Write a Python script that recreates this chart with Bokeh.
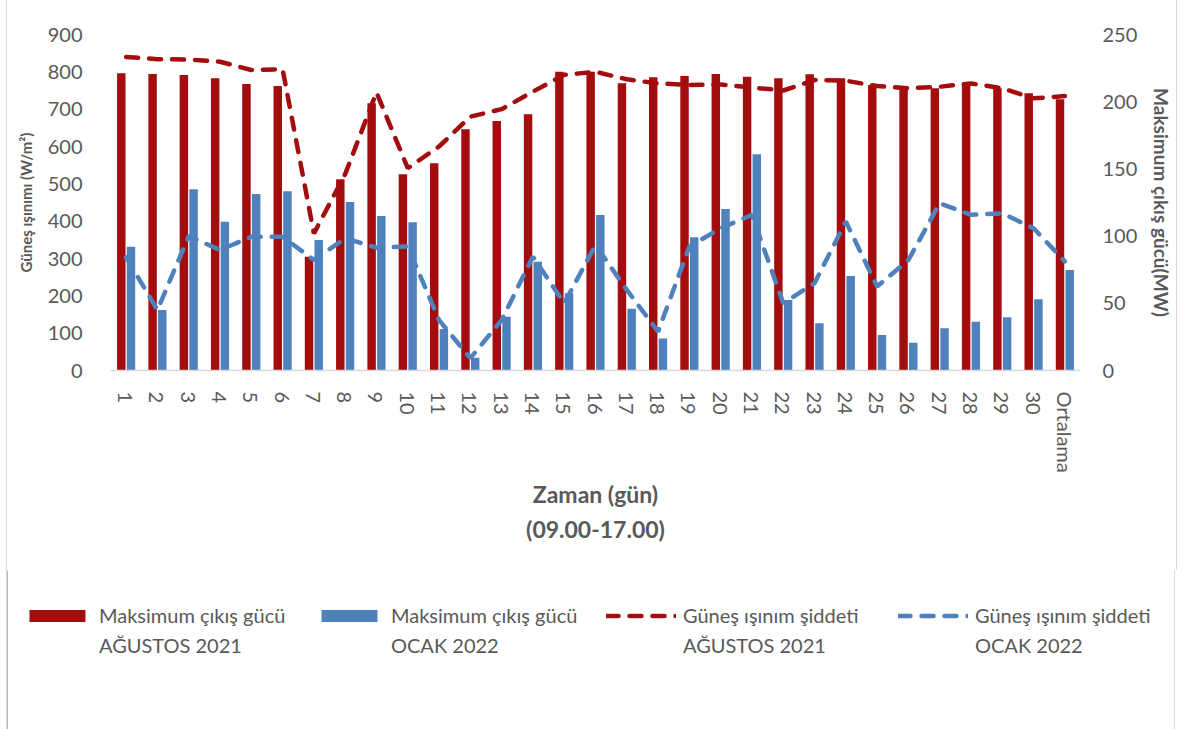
from bokeh.plotting import figure
from bokeh.models import (Range1d, LinearAxis, FactorRange, Legend, LegendItem,
                          FixedTicker, ColumnDataSource)
from bokeh.transform import dodge
from bokeh.embed import file_html
from bokeh.resources import INLINE

# ---------------- data ----------------
days = [str(i) for i in range(1, 31)] + ["Ortalama"]

# Maksimum çıkış gücü (MW) - right axis
guc_agustos = [221.1, 220.6, 219.9, 217.4, 213.2, 211.7, 84.7, 142.3, 198.8, 146.0,
               154.2, 179.5, 185.6, 190.6, 222.3, 222.3, 213.7, 218.1, 219.1, 220.6,
               218.6, 217.4, 220.4, 217.4, 212.4, 210.0, 210.0, 213.7, 210.0, 206.3,
               201.8]
guc_ocak = [92.1, 45.0, 134.8, 110.7, 131.3, 133.3, 97.1, 125.4, 115.0, 110.3,
            30.9, 9.5, 40.0, 81.0, 57.4, 115.7, 46.0, 23.9, 99.1, 120.2,
            160.9, 52.5, 35.1, 70.3, 26.4, 20.7, 31.4, 36.3, 39.6, 53.0,
            74.8]

# Güneş ışınım şiddeti (W/m²) - left axis
isinim_agustos = [840, 834, 833, 827, 805, 807, 367, 526, 745, 542,
                  600, 680, 700, 747, 792, 800, 780, 769, 765, 766,
                  758, 750, 778, 776, 762, 756, 760, 769, 756, 729,
                  735]
isinim_ocak = [303, 162, 360, 323, 358, 358, 296, 354, 329, 332,
               135, 33, 135, 305, 180, 336, 216, 104, 332, 381,
               417, 180, 234, 399, 225, 296, 448, 417, 421, 381,
               292]

left_ticks = [0, 100, 200, 300, 400, 500, 600, 700, 800, 900]
right_ticks = [0, 50, 100, 150, 200, 250]

series_names = ["Maksimum çıkış gücü", "Maksimum çıkış gücü",
                "Güneş ışınım şiddeti", "Güneş ışınım şiddeti"]
series_periods = ["AĞUSTOS 2021", "OCAK 2022", "AĞUSTOS 2021", "OCAK 2022"]

# ---------------- style ----------------
RED = "#A30D0D"
BLUE = "#4F81BD"
GRAY = "#595959"
FONT = "Lato"
DASH = "12 11"
LW = 4.5
BOX = {"margin-left": "6px",
       "border-left": "1px solid #D9D9D9", "border-right": "1px solid #D9D9D9"}

src = ColumnDataSource(dict(day=days, ga=guc_agustos, go=guc_ocak,
                            ia=isinim_agustos, io=isinim_ocak))

p = figure(x_range=FactorRange(factors=days, range_padding=0),
           y_range=Range1d(0, 900),
           frame_width=970, frame_height=336,
           output_backend="svg", toolbar_location=None,
           min_border_left=103, min_border_right=96,
           min_border_top=34, min_border_bottom=200)
p.extra_y_ranges = {"mw": Range1d(0, 250)}
p.styles = BOX

p.vbar(x=dodge("day", -0.155, range=p.x_range), top="ga", width=0.27,
       source=src, fill_color=RED, line_color=None, y_range_name="mw")
p.vbar(x=dodge("day", 0.155, range=p.x_range), top="go", width=0.27,
       source=src, fill_color=BLUE, line_color=None, y_range_name="mw")
p.line(x="day", y="ia", source=src, line_color=RED, line_width=LW,
       line_dash=DASH, line_cap="round")
p.line(x="day", y="io", source=src, line_color=BLUE, line_width=LW,
       line_dash=DASH, line_cap="round")

p.xgrid.grid_line_color = None
p.ygrid.grid_line_color = None
p.outline_line_color = None

# left axis
ly = p.yaxis[0]
ly.ticker = FixedTicker(ticks=left_ticks)
ly.axis_label = "Güneş ışınımı (W/m²)"
ly.axis_label_text_font_size = "15px"
ly.major_label_standoff = 22

ry = LinearAxis(y_range_name="mw", ticker=FixedTicker(ticks=right_ticks),
                axis_label="Maksimum çıkış gücü(MW)")
p.add_layout(ry, "right")
ry.axis_label_text_font_size = "19px"
ry.major_label_standoff = 16

for ax in (ly, ry):
    ax.axis_line_color = None
    ax.major_tick_line_color = None
    ax.minor_tick_line_color = None
    ax.major_label_text_font = FONT
    ax.major_label_text_font_size = "20px"
    ax.major_label_text_color = GRAY
    ax.axis_label_text_font = FONT
    ax.axis_label_text_font_style = "bold"
    ax.axis_label_text_color = GRAY
    ax.axis_label_standoff = 10

xa = p.xaxis[0]
xa.axis_line_color = "#D9D9D9"
xa.axis_line_width = 1.5
xa.major_tick_line_color = None
xa.minor_tick_line_color = None
xa.major_label_orientation = "vertical"
xa.major_label_text_font = FONT
xa.major_label_text_font_size = "20px"
xa.major_label_text_color = GRAY
xa.major_label_standoff = 15
xa.axis_label = "Zaman (gün)\n(09.00-17.00)"
xa.axis_label_text_font = FONT
xa.axis_label_text_font_size = "23px"
xa.axis_label_text_font_style = "bold"
xa.axis_label_text_color = GRAY
xa.axis_label_text_line_height = 1.25
xa.axis_label_standoff = 4

# ---------------- legend panel ----------------
lf = figure(width=1169, height=159, x_range=Range1d(0, 1), y_range=Range1d(0, 1),
            x_axis_type=None, y_axis_type=None,
            output_backend="svg", toolbar_location=None,
            min_border_left=0, min_border_right=0, min_border_top=0, min_border_bottom=0)
lf.xgrid.grid_line_color = None
lf.ygrid.grid_line_color = None
lf.outline_line_color = None
lf.styles = BOX

# legend swatch helpers, placed outside the visible range
off = dict(x=[-10, -9], y=[0, 0])
k1 = lf.vbar(x=[-10], top=[1], width=0.5, fill_color=RED, line_color=None)
k2 = lf.vbar(x=[-10], top=[1], width=0.5, fill_color=BLUE, line_color=None)
k3 = lf.line(x=off["x"], y=off["y"], line_color=RED, line_width=LW, line_dash=DASH, line_cap="round")
k4 = lf.line(x=off["x"], y=off["y"], line_color=BLUE, line_width=LW, line_dash=DASH, line_cap="round")
h1 = lf.vbar(x=[-10], top=[1], width=0.5, fill_alpha=0, line_alpha=0)

common = dict(orientation="horizontal", glyph_width=70, glyph_height=15,
              label_standoff=7, spacing=0, label_width=215,
              padding=0, margin=0, border_line_color=None,
              background_fill_alpha=0, label_height=24,
              label_text_font=FONT, label_text_font_size="20px",
              label_text_color=GRAY)

legend_a = Legend(items=[LegendItem(label=n, renderers=[r])
                         for n, r in zip(series_names, [k1, k2, k3, k4])],
                  location=(15, 102), **common)
legend_b = Legend(items=[LegendItem(label=t, renderers=[h1]) for t in series_periods],
                  location=(15, 72), **common)
lf.add_layout(legend_a, "center")
lf.add_layout(legend_b, "center")

open("out.html", "w").write(file_html([p, lf], INLINE))
